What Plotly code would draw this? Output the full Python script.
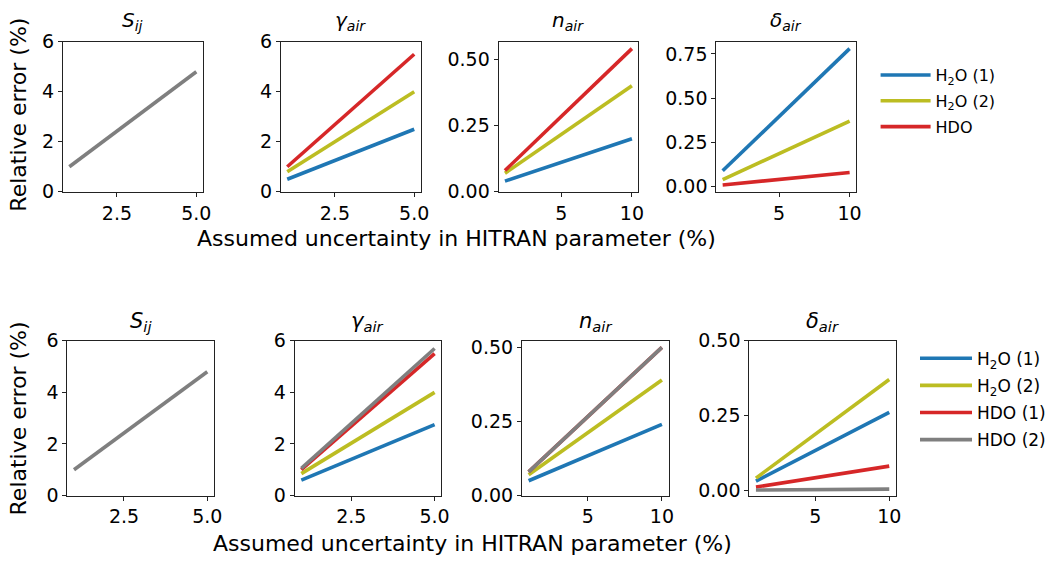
import plotly.graph_objects as go

W, H = 1051, 570

# ---------------- data ----------------
X_SHORT = [1, 5]
X_LONG = [1, 10]

# top row (three species)
top_S = [1.0, 4.8]
top_gamma_h2o1 = [0.5, 2.5]
top_gamma_h2o2 = [0.8, 4.0]
top_gamma_hdo = [1.0, 5.5]
top_n_h2o1 = [0.04, 0.20]
top_n_h2o2 = [0.07, 0.40]
top_n_hdo = [0.08, 0.54]
top_d_h2o1 = [0.09, 0.78]
top_d_h2o2 = [0.04, 0.37]
top_d_hdo = [0.01, 0.08]

# bottom row (four species)
bot_S = [1.0, 4.8]
bot_gamma_h2o1 = [0.6, 2.75]
bot_gamma_h2o2 = [0.85, 4.0]
bot_gamma_hdo1 = [1.0, 5.5]
bot_gamma_hdo2 = [1.05, 5.7]
bot_n_h2o1 = [0.05, 0.24]
bot_n_h2o2 = [0.07, 0.39]
bot_n_hdo1 = [0.08, 0.50]
bot_n_hdo2 = [0.08, 0.50]
bot_d_h2o1 = [0.03, 0.26]
bot_d_h2o2 = [0.04, 0.37]
bot_d_hdo1 = [0.01, 0.08]
bot_d_hdo2 = [0.0, 0.003]

titles = ["<i>S</i><sub><i>ij</i></sub>", "<i>γ</i><sub><i>air</i></sub>",
          "<i>n</i><sub><i>air</i></sub>", "<i>δ</i><sub><i>air</i></sub>"]

BLUE, OLIVE, RED, GRAY = "#1f77b4", "#bcbd22", "#d62728", "#7f7f7f"
FONT = "DejaVu Sans"
LW = 3.6

# panel pixel boxes (left, right, top, bottom)
TW, BW = 141, 148
top_lefts = [63.6, 283.6, 503.4, 723.2]
bot_lefts = [68, 297.5, 527, 756.5]
top_boxes = [(l, l + TW, 32, 188) for l in top_lefts]
bot_boxes = [(l, l + BW, 343, 504) for l in bot_lefts]

top_yr = [[0, 6], [0, 6], [0, 0.566], [-0.0285, 0.8185]]
bot_yr = [[0, 6], [0, 6], [0, 0.5225], [-0.0185, 0.5]]
xr = [[0.8, 5.2], [0.8, 5.2], [0.55, 10.45], [0.55, 10.45]]

fig = go.Figure()
layout = dict(width=W, height=H, margin=dict(l=0, r=0, t=0, b=0),
              paper_bgcolor="white", plot_bgcolor="white",
              font=dict(family=FONT, color="black"), annotations=[])


def add_axes(idx, box, yrange, xrange_, ydtick, xdtick, yfmt, xfmt, tfs):
    l, r, t, b = box
    common = dict(showgrid=False, zeroline=False, showline=True, mirror=True,
                  linecolor="#222", linewidth=1, ticks="outside", ticklen=4,
                  tickcolor="#222", tick0=0, tickfont=dict(size=tfs, family=FONT))
    xa = dict(domain=[l / W, r / W], range=xrange_, anchor="y%d" % idx,
              dtick=xdtick, tickformat=xfmt, **common)
    ya = dict(domain=[1 - b / H, 1 - t / H], range=yrange, anchor="x%d" % idx,
              dtick=ydtick, tickformat=yfmt, **common)
    layout["xaxis" if idx == 1 else "xaxis%d" % idx] = xa
    layout["yaxis" if idx == 1 else "yaxis%d" % idx] = ya


def line(idx, x, y, color, name, legend, show, group):
    fig.add_trace(go.Scatter(x=x, y=y, mode="lines",
                             line=dict(color=color, width=LW),
                             name=name, showlegend=show, legend=legend,
                             legendgroup=group,
                             xaxis="x" if idx == 1 else "x%d" % idx,
                             yaxis="y" if idx == 1 else "y%d" % idx))


ydt = [2, 2, 0.25, 0.25]
yfm = ["d", "d", ".2f", ".2f"]
xdt = [2.5, 2.5, 5, 5]
xfm = [".1f", ".1f", "d", "d"]
for i in range(4):
    add_axes(i + 1, top_boxes[i], top_yr[i], xr[i], ydt[i], xdt[i], yfm[i], xfm[i], 19)
    add_axes(i + 5, bot_boxes[i], bot_yr[i], xr[i], ydt[i], xdt[i], yfm[i], xfm[i], 19)

H1, H2 = "H<sub>2</sub>O (1)", "H<sub>2</sub>O (2)"

# ---- top row ----
line(1, X_SHORT, top_S, GRAY, "S", "legend", False, "tS")
line(2, X_SHORT, top_gamma_h2o1, BLUE, H1, "legend", False, "t1")
line(2, X_SHORT, top_gamma_h2o2, OLIVE, H2, "legend", False, "t2")
line(2, X_SHORT, top_gamma_hdo, RED, "HDO", "legend", False, "t3")
line(3, X_LONG, top_n_h2o1, BLUE, H1, "legend", False, "t1")
line(3, X_LONG, top_n_h2o2, OLIVE, H2, "legend", False, "t2")
line(3, X_LONG, top_n_hdo, RED, "HDO", "legend", False, "t3")
line(4, X_LONG, top_d_h2o1, BLUE, H1, "legend", True, "t1")
line(4, X_LONG, top_d_h2o2, OLIVE, H2, "legend", True, "t2")
line(4, X_LONG, top_d_hdo, RED, "HDO", "legend", True, "t3")

# ---- bottom row ----
line(5, X_SHORT, bot_S, GRAY, "S", "legend2", False, "bS")
line(6, X_SHORT, bot_gamma_h2o1, BLUE, H1, "legend2", False, "b1")
line(6, X_SHORT, bot_gamma_h2o2, OLIVE, H2, "legend2", False, "b2")
line(6, X_SHORT, bot_gamma_hdo1, RED, "HDO (1)", "legend2", False, "b3")
line(6, X_SHORT, bot_gamma_hdo2, GRAY, "HDO (2)", "legend2", False, "b4")
line(7, X_LONG, bot_n_h2o1, BLUE, H1, "legend2", False, "b1")
line(7, X_LONG, bot_n_h2o2, OLIVE, H2, "legend2", False, "b2")
line(7, X_LONG, bot_n_hdo1, RED, "HDO (1)", "legend2", False, "b3")
line(7, X_LONG, bot_n_hdo2, GRAY, "HDO (2)", "legend2", False, "b4")
line(8, X_LONG, bot_d_h2o1, BLUE, H1, "legend2", True, "b1")
line(8, X_LONG, bot_d_h2o2, OLIVE, H2, "legend2", True, "b2")
line(8, X_LONG, bot_d_hdo1, RED, "HDO (1)", "legend2", True, "b3")
line(8, X_LONG, bot_d_hdo2, GRAY, "HDO (2)", "legend2", True, "b4")

layout["legend"] = dict(x=884 / W, y=1 - 49 / H, xanchor="left", yanchor="top",
                        font=dict(size=16, family=FONT), bgcolor="rgba(0,0,0,0)",
                        tracegroupgap=2, itemwidth=50)
layout["legend2"] = dict(x=924 / W, y=1 - 343 / H, xanchor="left", yanchor="top",
                         font=dict(size=17, family=FONT), bgcolor="rgba(0,0,0,0)",
                         tracegroupgap=2, itemwidth=52)

# subplot titles
for boxes, fs, off in ((top_boxes, 20, 6), (bot_boxes, 21, 4)):
    for i, (l, r, t, b) in enumerate(boxes):
        layout["annotations"].append(dict(
            text=titles[i], x=(l + r) / 2 / W, y=1 - (t - off) / H,
            xref="paper", yref="paper", xanchor="center", yanchor="bottom",
            showarrow=False, font=dict(size=fs, family=FONT)))

# axis titles
for txt, x, y, ang in (("Assumed uncertainty in HITRAN parameter (%)", 461, 237, 0),
                       ("Assumed uncertainty in HITRAN parameter (%)", 477, 554, 0),
                       ("Relative error (%)", 19, 108, -90),
                       ("Relative error (%)", 19, 424, -90)):
    layout["annotations"].append(dict(
        text=txt, x=x / W, y=1 - y / H, xref="paper", yref="paper",
        xanchor="center", yanchor="middle", showarrow=False, textangle=ang,
        font=dict(size=22, family=FONT)))

fig.update_layout(**layout)
fig.write_html("out.html")
